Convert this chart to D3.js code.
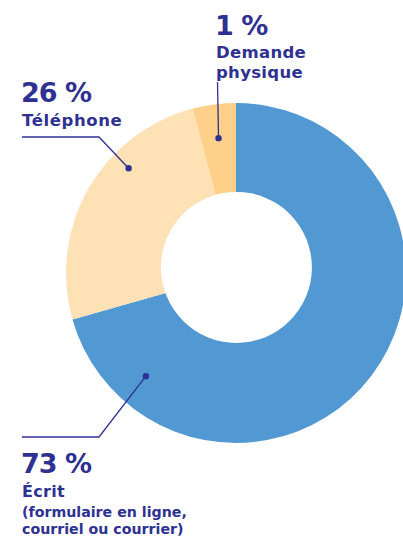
<!DOCTYPE html>
<html>
<head>
<meta charset="utf-8">
<script src="https://cdn.jsdelivr.net/npm/d3@7"></script>
<style>
  body { margin: 0; background: #fff; }
  svg { display: block; }
  text { font-family: "DejaVu Sans", sans-serif; font-weight: bold; fill: #2e3191; }
</style>
</head>
<body>
<div id="chart"></div>
<script>
// slice shares as drawn in the picture (the printed labels are rounded differently)
let categories = ["Écrit", "Téléphone", "Demande physique"];
let shares = [70.6, 25.3, 4.1];
let percentLabels = ["73 %", "26 %", "1 %"];
let nameLines = [
    ["Écrit", "(formulaire en ligne,", "courriel ou courrier)"],
    ["Téléphone"],
    ["Demande", "physique"]
];
let colors = ["#5299d3", "#fee1b5", "#fed08a"];

let width = 403;
let height = 539;
let cx = 236, cy = 273;
let outerR = 170;
let ink = "#2e3191";

// where each leader dot sits inside its slice (fraction of the slice angle, radius)
let anchors = [
    { t: 0.87, r: 137, elbow: [99, 437], end: [22, 437] },
    { t: 0.66, r: 150, elbow: [99, 137], end: [22, 137] },
    { t: 0.5, r: 136, elbow: null, end: [217.5, 82] }
];

let svg = d3.select("#chart")
    .append("svg")
    .attr("width", width)
    .attr("height", height);

let pie = d3.pie().sort(null).value(d => d);
let arcs = pie(shares);

let arc = d3.arc().innerRadius(0).outerRadius(outerR);

let g = svg.append("g").attr("transform", `translate(${cx},${cy})`);

g.selectAll("path")
    .data(arcs)
    .enter()
    .append("path")
    .attr("d", arc)
    .attr("fill", (d, i) => colors[i]);

// the hole sits a little above the ring's centre in the original
svg.append("circle")
    .attr("cx", 236.4)
    .attr("cy", 267.4)
    .attr("r", 75.5)
    .attr("fill", "#fff");

// leader lines + dots
arcs.forEach(function (d, i) {
    let a = anchors[i];
    let ang = d.startAngle + (d.endAngle - d.startAngle) * a.t;
    let px = cx + a.r * Math.sin(ang);
    let py = cy - a.r * Math.cos(ang);
    let pts = [[px, py]];
    if (a.elbow) pts.push(a.elbow);
    pts.push(a.end);
    svg.append("path")
        .attr("d", d3.line()(pts))
        .attr("fill", "none")
        .attr("stroke", ink)
        .attr("stroke-width", 1.3);
    svg.append("circle")
        .attr("cx", px)
        .attr("cy", py)
        .attr("r", 3.2)
        .attr("fill", ink);
});

// labels
let labelPos = [
    { x: 21, y: 473, lines: [496.5, 516.5, 534], sizes: [16, 14.2, 14.2], ls: [0.3, 0, 0] },
    { x: 21, y: 102, lines: [126], sizes: [16.5], ls: [0.6] },
    { x: 215, y: 35, lines: [58, 78], sizes: [16.5, 16.5], ls: [0.3, 0.3] }
];

labelPos.forEach(function (p, i) {
    svg.append("text")
        .attr("x", p.x)
        .attr("y", p.y)
        .style("font-size", "27px")
        .style("letter-spacing", "-1px")
        .text(percentLabels[i]);
    nameLines[i].forEach(function (line, j) {
        svg.append("text")
            .attr("x", p.x + 1)
            .attr("y", p.lines[j])
            .style("font-size", p.sizes[j] + "px")
            .style("letter-spacing", p.ls[j] + "px")
            .text(line);
    });
});
</script>
</body>
</html>
